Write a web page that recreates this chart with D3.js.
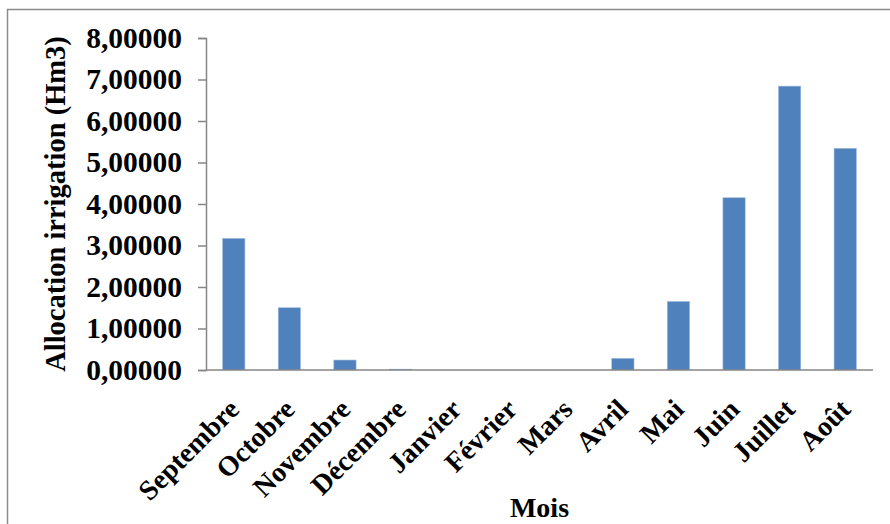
<!DOCTYPE html>
<html>
<head>
<meta charset="utf-8">
<script src="https://cdn.jsdelivr.net/npm/d3@7"></script>
<style>
  html, body { margin: 0; padding: 0; background: #fff; }
  svg { display: block; }
  text { font-family: "Liberation Serif", "Times New Roman", serif; font-weight: bold; fill: #000; }
</style>
</head>
<body>
<svg id="chart" width="890" height="524"></svg>
<script>
// Monthly irrigation allocation (Hm3)
const months = ["Septembre", "Octobre", "Novembre", "Décembre", "Janvier", "Février",
                "Mars", "Avril", "Mai", "Juin", "Juillet", "Août"];
const allocation = [3.17, 1.50, 0.24, 0.02, 0, 0, 0, 0.28, 1.65, 4.15, 6.84, 5.34];
const yTicks = [0, 1, 2, 3, 4, 5, 6, 7, 8];
const yTitle = "Allocation irrigation (Hm3)";
const xTitle = "Mois";

const svg = d3.select("#chart");
const W = 890, H = 524;
const plot = { left: 206, right: 873, top: 38, bottom: 370 };

// Outer chart frame
svg.append("rect")
  .attr("x", 7.5).attr("y", 9.5)
  .attr("width", W + 10).attr("height", H + 10)
  .attr("fill", "none").attr("stroke", "#8c8c8c").attr("stroke-width", 1.5);

const x = d3.scaleBand().domain(months).range([plot.left, plot.right]).paddingInner(0.6).paddingOuter(0.3);
const y = d3.scaleLinear().domain([0, 8]).range([plot.bottom, plot.top]);

const fmt = v => d3.format(".5f")(v).replace(".", ",");

// Y axis
const yAxis = svg.append("g")
  .attr("transform", `translate(${plot.left},0)`)
  .call(d3.axisLeft(y).tickValues(yTicks).tickFormat(fmt).tickSize(8).tickPadding(16));
yAxis.select(".domain").attr("stroke", "#868686").attr("stroke-width", 1.5);
yAxis.selectAll(".tick line").attr("stroke", "#868686").attr("stroke-width", 1.5);
yAxis.selectAll(".tick text")
  .attr("font-family", "Liberation Serif, serif").attr("font-weight", "bold")
  .attr("font-size", 29.5).attr("fill", "#000");

// Bars
svg.append("g").selectAll("rect")
  .data(months.map((m, i) => ({ m, v: allocation[i] })))
  .join("rect")
  .attr("x", d => x(d.m))
  .attr("width", x.bandwidth())
  .attr("y", d => y(d.v))
  .attr("height", d => y(0) - y(d.v))
  .attr("fill", "#4f81bd")
  .attr("stroke", "#9db8dd").attr("stroke-width", 0.6);

// X axis
const xAxis = svg.append("g")
  .attr("transform", `translate(0,${plot.bottom})`)
  .call(d3.axisBottom(x).tickSize(0).tickPadding(0));
xAxis.select(".domain").attr("stroke", "#868686").attr("stroke-width", 1.5)
  .attr("d", `M${plot.left},0H${plot.right}`);
xAxis.selectAll(".tick text")
  .attr("font-family", "Liberation Serif, serif").attr("font-weight", "bold")
  .attr("font-size", 28).attr("fill", "#000")
  .attr("text-anchor", "end")
  .attr("dy", 0)
  .attr("transform", "translate(7,41) rotate(-45)");

// Axis titles
svg.append("text")
  .attr("transform", `translate(65,${(plot.top + plot.bottom) / 2}) rotate(-90)`)
  .attr("text-anchor", "middle")
  .attr("font-size", 28.5)
  .text(yTitle);

svg.append("text")
  .attr("x", (plot.left + plot.right) / 2).attr("y", 517)
  .attr("text-anchor", "middle")
  .attr("font-size", 28)
  .text(xTitle);
</script>
</body>
</html>
